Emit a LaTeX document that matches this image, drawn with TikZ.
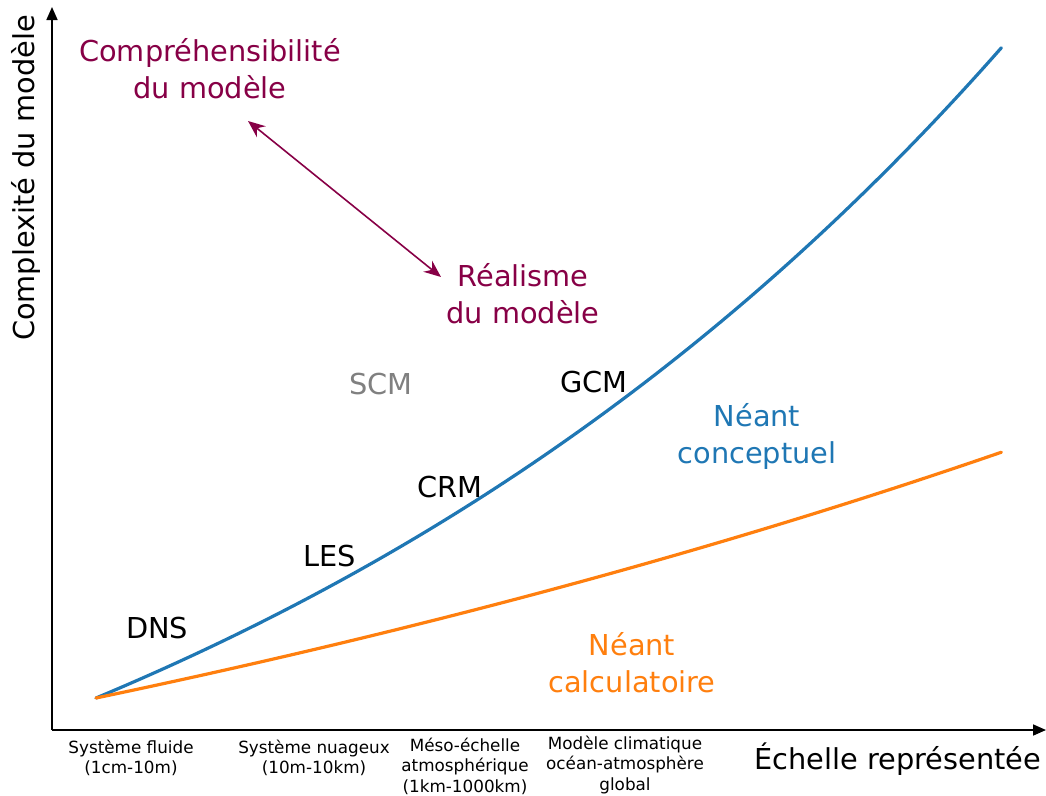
\documentclass[tikz,border=0pt]{standalone}
\usepackage{fontspec}
\setmainfont{DejaVu Sans}
\usetikzlibrary{arrows.meta}
\definecolor{mblue}{HTML}{1F77B4}
\definecolor{morange}{HTML}{FF7F0E}
\definecolor{wine}{RGB}{135,0,70}
\definecolor{sgray}{RGB}{128,128,128}
\tikzset{
  big/.style={inner sep=0pt, align=center, font=\fontsize{28.8}{37}\selectfont},
  small/.style={inner sep=0pt, align=center, font=\fontsize{16.8}{20.5}\selectfont},
  axis/.style={line width=1.7pt, -{Triangle[length=13pt,width=11pt]}},
  curve/.style={line width=3.2pt, line cap=round},
  dbl/.style={wine, line width=1.6pt, {Stealth[length=17pt,width=14pt]}-{Stealth[length=17pt,width=14pt]}}
}
\begin{document}
\begin{tikzpicture}[x=1pt,y=-1pt]
\useasboundingbox (0,0) rectangle (1046,795);
% axes
\coordinate (O) at (52,730);
\coordinate (ytop) at (52,7);
\coordinate (xend) at (1046,730);
\draw[axis] (O) -- (ytop);
\draw[axis] (O) -- (xend);
% curves
\draw[curve, mblue] plot[domain=0:1, samples=80, smooth] ({96+906*\x}, {698-651*(exp(\x)-1)/(exp(1)-1)});
\draw[curve, morange] plot[domain=0:1, samples=80, smooth] ({96+906*\x}, {698-246*(exp(0.5*\x)-1)/(exp(0.5)-1)});
% axis labels
\node[big, rotate=90] (ylab) at (26,178) {Complexité du modèle};
\node[big] (xlab) at (898,759) {Échelle représentée};
% texts
\node[big, wine] (compr) at (210,69) {Compréhensibilité\\du modèle};
\node[big, wine] (real) at (523,294) {Réalisme\\du modèle};
\node[big, sgray] (scm) at (381,384) {SCM};
\node[big] (gcm) at (594,382) {GCM};
\node[big] (crm) at (450,487) {CRM};
\node[big] (les) at (330,556) {LES};
\node[big] (dns) at (157,628) {DNS};
\node[big, mblue] (nc) at (757,436) {Néant\\conceptuel};
\node[big, morange] (ncal) at (632,663) {Néant\\calculatoire};
% double arrow
\coordinate (a1) at (248,121);
\coordinate (a2) at (441,277);
\draw[dbl] (a1) -- (a2);
% bottom labels
\node[small] (s1) at (131,758) {Système fluide\\(1cm-10m)};
\node[small] (s2) at (314,758) {Système nuageux\\(10m-10km)};
\node[small] (s3) at (465,766) {Méso-échelle\\atmosphérique\\(1km-1000km)};
\node[small] (s4) at (625,765) {Modèle climatique\\océan-atmosphère\\global};
\end{tikzpicture}
\end{document}
